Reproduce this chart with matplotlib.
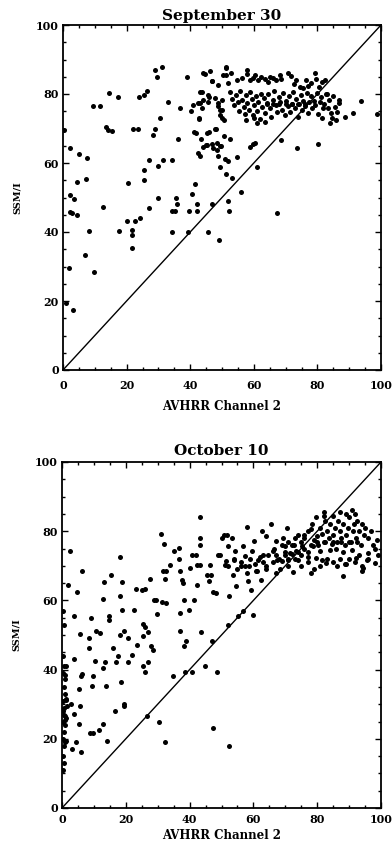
#!/usr/bin/env python3
"""
SSM/I versus AVHRR channel 2 scatter plots for two dates, stacked.
"""

import matplotlib

matplotlib.use("Agg")
import matplotlib.pyplot as plt
import numpy as np
from matplotlib.ticker import MultipleLocator

TITLES = ["September 30", "October 10"]
XLABEL = "AVHRR Channel 2"
YLABEL = "SSM/I"
TICKS = [0, 20, 40, 60, 80, 100]

# (AVHRR ch2, SSM/I) pairs, September 30
SEP_POINTS = [
    (0.4, 69.6), (2.0, 29.5), (1.0, 19.5), (3.0, 17.4), (2.2, 64.4), (5.0, 62.5),
    (7.7, 61.4), (4.3, 54.4), (7.2, 55.4), (2.2, 50.7), (3.5, 49.6), (2.9, 45.6),
    (4.3, 44.9), (2.2, 45.7), (8.1, 40.4), (6.8, 33.3), (9.9, 28.3), (9.5, 76.5),
    (11.6, 76.5), (13.5, 70.3), (14.0, 69.6), (15.4, 69.3), (14.6, 80.2), (17.2, 79.2),
    (12.7, 47.3), (17.7, 40.2), (20.2, 43.2), (20.5, 54.2), (21.6, 40.6), (21.6, 39.1),
    (21.6, 35.3), (22.5, 43.2), (24.2, 44.2), (22.1, 70.0), (23.7, 70.0), (24.0, 79.0),
    (25.5, 79.7), (26.3, 81.0), (25.6, 58.0), (25.5, 55.0), (27.0, 47.0), (27.0, 60.9),
    (28.4, 68.1), (29.0, 70.0), (30.5, 73.0), (28.9, 87.1), (29.5, 85.0), (31.0, 87.9),
    (30.0, 59.1), (29.8, 50.0), (31.3, 60.9), (33.1, 77.8), (34.2, 60.9), (34.4, 46.1),
    (35.2, 46.1), (34.2, 39.9), (35.4, 50.0), (36.0, 48.0), (36.3, 67.1), (36.8, 76.0),
    (38.9, 84.8), (39.3, 39.9), (39.5, 46.1), (40.2, 75.0), (40.5, 50.9), (41.0, 76.8),
    (41.5, 53.8), (41.8, 68.8), (42.0, 48.0), (42.0, 46.1), (42.9, 73.0), (43.0, 62.0),
    (43.0, 77.5), (43.4, 66.9), (43.6, 80.7), (44.5, 85.7), (44.9, 65.2), (45.5, 39.9),
    (45.9, 79.0), (46.0, 68.9), (46.2, 86.7), (46.9, 83.8), (46.9, 65.4), (47.3, 64.4),
    (46.9, 48.0), (48.1, 69.9), (48.3, 63.9), (48.8, 62.0), (49.2, 37.7), (49.4, 58.9),
    (48.8, 76.6), (49.4, 73.9), (49.6, 65.0), (49.9, 78.3), (49.9, 75.4), (50.6, 67.8),
    (51.3, 85.5), (51.3, 56.7), (51.8, 48.9), (52.0, 60.6), (52.2, 46.1), (52.5, 67.0),
    (52.7, 86.0), (53.2, 55.7), (54.8, 61.8), (55.9, 51.7), (51.2, 87.6), (60.4, 65.7),
    (60.9, 58.9), (67.2, 45.4), (68.6, 66.7), (73.5, 64.3), (80.1, 65.4), (98.6, 74.2),
    (93.6, 78.1), (91.1, 74.4), (88.6, 73.2), (86.8, 78.3), (86.0, 72.6), (84.0, 71.5),
    (81.3, 72.9), (82.9, 80.0), (86.9, 77.3), (85.5, 76.1), (86.1, 74.9), (84.5, 73.0),
    (59.8, 65.5), (58.8, 64.7), (50.9, 61.2), (49.4, 64.9), (48.3, 65.9), (47.8, 70.0),
    (45.2, 65.2), (44.1, 64.7), (45.4, 68.6), (44.1, 86.0), (46.8, 83.9), (48.8, 82.6),
    (50.4, 85.5), (51.3, 87.9), (52.0, 83.1), (43.1, 80.7), (44.1, 78.3), (43.6, 75.8),
    (45.7, 79.7), (45.7, 77.8), (47.8, 78.7), (48.8, 77.3), (49.4, 75.4), (49.9, 72.9),
    (50.6, 72.5), (42.6, 77.3), (42.8, 72.8), (41.3, 68.9), (42.3, 63.0),
    # upper row of the dense cluster
    (54.6, 84.1), (56.2, 84.6), (57.8, 86.9), (58.8, 84.0), (59.9, 84.6), (61.4, 84.0),
    (63.5, 84.3), (64.5, 83.6), (66.1, 84.6), (68.2, 85.5), (68.7, 84.4), (70.8, 86.1),
    (71.8, 85.2), (73.4, 84.0), (74.5, 82.1), (75.5, 81.6), (77.1, 82.4), (79.2, 86.0),
    (79.7, 84.3), (81.3, 83.5), (82.3, 84.0), (58.0, 85.8), (60.5, 85.6), (62.3, 84.8),
    (65.2, 85.0), (67.0, 84.0), (72.5, 83.0), (76.5, 84.2), (78.0, 83.2), (80.5, 82.0),
    # dense cluster
    (52.5, 80.6), (53.2, 78.5), (53.8, 76.8), (54.5, 79.7), (55.0, 77.6), (55.3, 75.2),
    (55.8, 80.9), (56.3, 78.4), (56.8, 76.3), (57.2, 74.1), (57.6, 79.6), (58.0, 77.4),
    (58.5, 75.5), (58.9, 80.5), (59.3, 78.6), (59.8, 73.8), (60.2, 76.7), (60.6, 79.4),
    (61.0, 75.0), (61.4, 77.8), (61.9, 72.8), (62.3, 80.1), (62.7, 76.2), (63.2, 78.8),
    (63.6, 74.6), (64.1, 77.3), (64.6, 79.9), (65.0, 75.8), (65.5, 73.4), (66.0, 78.2),
    (66.4, 80.8), (66.9, 76.9), (67.4, 74.8), (67.8, 79.1), (68.3, 77.6), (68.8, 75.4),
    (69.2, 80.3), (69.7, 73.9), (70.1, 78.0), (70.6, 76.4), (71.0, 79.4), (71.5, 74.7),
    (72.0, 77.2), (72.4, 80.7), (72.9, 75.9), (73.3, 78.5), (73.8, 73.2), (74.3, 77.0),
    (74.7, 79.8), (75.2, 75.3), (75.6, 78.1), (76.1, 76.4), (76.6, 80.2), (77.0, 74.5),
    (77.5, 77.7), (78.0, 79.3), (78.4, 75.8), (78.9, 78.0), (79.3, 76.7), (79.8, 80.4),
    (80.3, 74.2), (80.7, 77.6), (81.2, 79.2), (81.7, 75.9), (82.2, 77.2), (82.7, 80.1),
    (83.3, 76.0), (83.8, 78.3), (84.4, 74.6), (85.0, 79.4), (76.0, 77.0), (74.0, 77.0),
    (72.0, 77.0), (70.0, 77.0), (68.0, 77.0), (66.0, 77.0), (64.0, 77.0), (61.0, 71.5),
    (63.5, 72.0), (60.0, 73.0), (57.5, 72.5),
]

# (AVHRR ch2, SSM/I) pairs, October 10
OCT_POINTS = [
    (2.4, 74.4), (1.9, 64.5), (4.7, 62.3), (6.3, 68.4), (3.7, 55.4), (5.7, 50.3),
    (3.7, 43.2), (6.0, 38.2), (6.3, 38.8), (5.3, 34.4), (5.5, 29.4), (2.8, 30.2),
    (3.9, 27.3), (5.2, 24.3), (4.5, 19.2), (3.2, 17.1), (6.0, 16.1), (1.4, 19.3),
    (1.2, 41.1), (0.8, 38.5), (1.4, 31.3), (0.9, 26.5), (0.9, 25.5), (8.5, 49.1),
    (8.5, 46.2), (9.2, 55.0), (9.8, 38.2), (9.5, 35.2), (9.8, 21.7), (8.7, 21.7),
    (10.5, 42.5), (10.6, 51.3), (11.9, 50.6), (11.5, 22.6), (12.8, 24.3), (12.9, 60.4),
    (13.3, 65.3), (13.5, 42.2), (12.9, 40.5), (13.9, 35.2), (14.2, 19.3), (14.6, 55.4),
    (14.6, 54.4), (15.3, 67.2), (16.1, 46.1), (16.8, 42.1), (16.7, 28.1), (17.4, 43.9),
    (18.3, 72.4), (18.3, 61.4), (18.8, 65.3), (18.9, 57.1), (18.3, 50.1), (19.5, 51.3),
    (18.4, 36.3), (19.3, 30.1), (19.3, 29.4), (20.7, 49.1), (20.8, 42.2), (22.6, 57.1),
    (21.9, 44.2), (23.4, 47.0), (23.3, 63.3), (25.1, 62.9), (26.1, 63.3), (25.4, 53.3),
    (26.1, 52.3), (25.4, 41.1), (26.1, 39.3), (26.5, 26.5), (26.9, 50.8), (26.9, 42.2),
    (27.7, 66.2), (28.0, 46.7), (28.6, 45.8), (25.4, 49.6), (28.9, 60.2), (29.6, 60.1),
    (29.8, 56.1), (30.4, 25.0), (31.0, 79.2), (32.0, 76.3), (31.7, 68.4), (32.5, 68.6),
    (32.4, 66.3), (31.2, 59.4), (32.5, 59.2), (32.4, 19.0), (33.8, 70.3), (34.8, 38.2),
    (35.0, 74.2), (36.7, 75.1), (36.6, 72.1), (37.0, 68.4), (37.0, 56.4), (36.9, 51.3),
    (37.7, 66.0), (37.9, 65.0), (38.3, 60.2), (38.3, 46.9), (39.0, 48.4), (38.5, 39.3),
    (39.7, 57.1), (40.0, 69.4), (40.6, 73.2), (40.8, 39.2), (41.4, 60.2), (41.9, 73.2),
    (42.2, 64.4), (42.2, 70.3), (43.2, 84.2), (43.4, 78.0), (43.3, 76.0), (43.2, 70.3),
    (43.6, 51.0), (44.8, 41.1), (45.3, 67.4), (46.1, 65.5), (46.3, 70.3), (46.8, 67.2),
    (47.0, 48.2), (47.4, 62.3), (48.4, 62.1), (47.4, 23.1), (48.6, 39.3), (49.0, 73.2),
    (49.5, 73.2), (50.0, 78.0), (50.7, 79.0), (51.6, 79.0), (51.0, 70.3), (51.5, 71.3),
    (52.1, 53.0), (51.9, 75.6), (52.4, 61.2), (52.2, 18.0), (53.3, 78.0), (53.7, 67.4),
    (54.0, 71.8), (54.2, 74.2), (54.7, 64.3), (55.2, 55.4), (56.0, 69.8), (56.6, 75.6),
    (57.3, 72.7), (56.6, 56.8), (58.0, 81.2), (58.4, 65.7), (58.7, 69.8), (59.1, 63.1),
    (59.6, 74.2), (59.9, 55.9), (60.1, 77.1), (60.8, 68.4), (61.3, 71.8), (62.6, 80.0),
    (63.1, 73.2), (62.5, 66.0), (63.8, 78.5), (64.1, 69.8), (65.5, 82.1), (66.2, 74.2),
    (67.0, 77.1), (67.5, 71.8), (68.3, 69.2), (69.3, 78.0), (69.8, 75.8), (70.6, 80.9),
    (70.9, 71.8), (71.4, 73.7), (72.5, 68.1), (72.8, 76.1), (73.5, 74.2), (74.1, 71.8),
    (75.1, 75.8), (75.8, 79.0), (77.2, 72.5), (78.2, 67.9), (78.7, 75.8), (79.6, 72.3),
    (80.9, 74.4), (81.4, 71.8), (82.1, 84.3), (82.9, 70.8), (86.3, 69.8), (88.2, 67.0),
    (88.7, 70.5), (90.8, 86.2), (92.1, 72.3), (93.9, 68.4), (94.5, 69.4), (95.5, 71.8),
    (96.0, 73.7), (97.6, 76.1), (98.1, 70.8), (98.6, 77.6),
    # dense cluster at high AVHRR values
    (76.0, 78.0), (77.0, 80.0), (78.0, 80.5), (78.5, 82.0), (79.0, 77.5), (79.8, 78.5),
    (80.4, 76.0), (81.0, 81.0), (81.6, 79.2), (82.0, 77.0), (82.6, 83.0), (83.1, 80.0),
    (83.6, 78.0), (84.1, 82.0), (84.6, 76.2), (85.1, 79.0), (85.6, 81.0), (86.1, 77.0),
    (86.6, 83.0), (87.1, 80.0), (87.6, 78.0), (88.1, 82.0), (88.6, 76.0), (89.1, 79.0),
    (89.6, 81.0), (90.1, 84.0), (90.6, 77.0), (91.1, 80.0), (91.6, 82.0), (92.1, 78.0),
    (92.6, 83.0), (93.1, 80.0), (93.6, 76.0), (94.1, 82.0), (94.6, 79.0), (95.1, 81.0),
    (96.0, 78.0), (97.0, 80.0), (75.0, 77.0), (74.0, 79.0), (73.0, 78.0), (72.0, 76.0),
    (71.0, 77.0), (70.0, 74.0), (69.0, 76.0), (84.0, 74.5), (86.0, 75.0), (88.0, 74.0),
    (91.0, 74.5), (93.0, 73.0), (79.5, 84.0), (85.0, 84.5), (87.0, 85.5), (89.0, 85.0),
    (92.0, 85.0), (82.0, 85.5), (80.0, 77.0), (82.5, 77.0), (85.0, 77.0), (87.5, 77.0),
    (90.0, 77.0), (92.5, 77.0),
    # band around the 1:1 line
    (66.0, 71.0), (67.0, 73.0), (68.0, 72.0), (69.0, 71.5), (70.0, 73.0), (71.0, 72.0),
    (72.0, 73.5), (73.0, 72.0), (74.0, 74.0), (75.0, 73.0), (76.0, 75.0), (77.0, 74.0),
    (78.0, 76.0), (66.5, 75.0), (64.5, 73.0), (63.0, 71.0), (62.0, 72.5), (60.5, 70.5),
    (59.0, 72.0), (57.5, 70.0), (56.0, 71.0), (55.0, 69.0), (54.0, 72.0), (52.0, 70.0),
    (58.0, 68.0), (61.0, 68.5), (64.0, 69.0), (67.0, 68.0), (71.0, 70.0), (75.0, 70.0),
    (77.0, 71.0), (79.0, 69.0), (81.0, 70.0), (83.0, 72.0), (85.0, 71.0), (87.0, 72.0),
    (89.0, 70.5), (90.0, 72.0), (92.0, 71.0), (94.0, 70.0), (96.0, 72.0), (98.0, 75.0),
    (99.0, 73.0),
    # pixels piled against the left axis
    (0.5, 41.0), (0.3, 39.0), (0.8, 37.2), (0.5, 35.0), (1.0, 33.0), (0.4, 31.0),
    (0.7, 29.0), (0.2, 28.0), (0.6, 27.0), (1.1, 26.0), (0.3, 25.0), (0.9, 24.0),
    (0.5, 22.0), (0.2, 20.0), (1.0, 19.0), (0.6, 18.0), (0.3, 15.0), (0.5, 13.0),
    (0.2, 11.0), (1.5, 29.5), (1.2, 31.5), (0.4, 44.0), (0.3, 57.0), (0.5, 53.0),
]

FONT = "DejaVu Serif"
PANELS = [
    # axes rect in figure fractions, title pad, x tick pad, x label pad
    ([63 / 392, 479 / 849, 318 / 392, 345 / 849], 3.6, 7, 7),
    ([62 / 392, 41 / 849, 319 / 392, 346 / 849], 5.0, 4, 3),
]


def draw_panel(ax, points, title, title_pad, xtick_pad, xlabel_pad):
    pts = np.array(points)
    ax.plot([0, 100], [0, 100], color="black", lw=1.0)
    ax.plot(pts[:, 0], pts[:, 1], "o", color="black", ms=3.6, mew=0)

    ax.set_xlim(0, 100)
    ax.set_ylim(0, 100)
    ax.set_xticks(TICKS)
    ax.set_yticks(TICKS)
    ax.xaxis.set_minor_locator(MultipleLocator(5))
    ax.yaxis.set_minor_locator(MultipleLocator(5))
    ax.tick_params(which="both", direction="in", top=True, right=True,
                   width=1.0, color="black")
    ax.tick_params(which="major", length=4)
    ax.tick_params(which="minor", length=2)
    ax.tick_params(axis="x", pad=xtick_pad)
    ax.tick_params(axis="y", pad=3)
    for lab in ax.get_xticklabels() + ax.get_yticklabels():
        lab.set_fontfamily(FONT)
        lab.set_fontweight("bold")
        lab.set_fontsize(8)
    for sp in ax.spines.values():
        sp.set_linewidth(1.3)

    ax.set_title(title, fontfamily=FONT, fontweight="bold", fontsize=11, pad=title_pad)
    ax.set_xlabel(XLABEL, fontfamily=FONT, fontweight="bold", fontsize=8.5,
                  labelpad=xlabel_pad)
    ax.set_ylabel(YLABEL, fontfamily=FONT, fontweight="bold", fontsize=7, labelpad=10)


fig = plt.figure(figsize=(3.92, 8.49), dpi=100)
fig.patch.set_facecolor("white")
for (rect, pad, tpad, lpad), pts, title in zip(PANELS, [SEP_POINTS, OCT_POINTS], TITLES):
    ax = fig.add_axes(rect)
    draw_panel(ax, pts, title, pad, tpad, lpad)

fig.savefig("out.png", dpi=100, facecolor="white")
